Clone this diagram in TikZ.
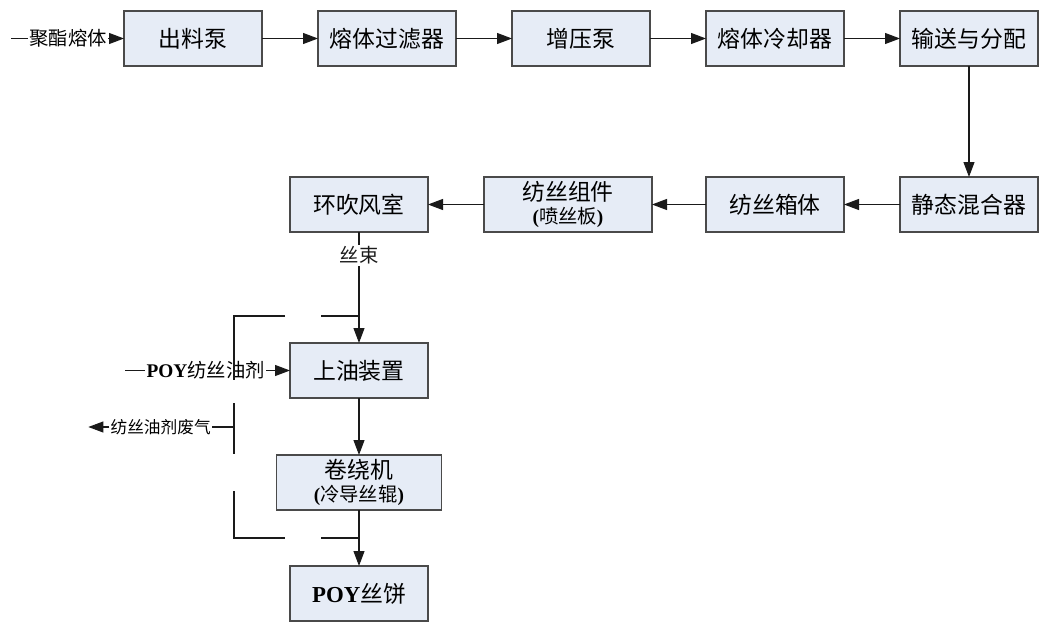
\documentclass[tikz,border=0pt]{standalone}
\usepackage{fontspec}
\setmainfont{Liberation Serif}
\newfontfamily\cjk{Noto Sans CJK SC}
\usetikzlibrary{arrows.meta,positioning}
\definecolor{boxfill}{HTML}{E6ECF6}
\definecolor{boxline}{HTML}{4A4A4A}
\definecolor{ink}{HTML}{1A1A1A}
\newcommand\subline[1]{{\fontsize{11}{12}\selectfont\textbf{\rmfamily(}#1\textbf{\rmfamily)}}}
\tikzset{
  proc/.style={draw=boxline,fill=boxfill,line width=0.8pt,minimum width=2.76cm,minimum height=1.1cm,inner sep=0pt,outer sep=0pt,align=center,font=\cjk\fontsize{13}{15}\selectfont},
  arr/.style={-{Triangle[length=3mm,width=2.2mm]},line width=0.6pt,color=ink},
  ln/.style={line width=0.6pt,color=ink},
  lbl/.style={inner sep=0.5pt,font=\cjk\fontsize{11}{13}\selectfont},
  slbl/.style={inner sep=0.5pt,font=\cjk\fontsize{9.5}{11}\selectfont}}

\begin{document}
\begin{tikzpicture}[node distance=1.12cm]
\useasboundingbox (0,0) rectangle (20.8,-12.44);
% melt line
\node[proc,anchor=north west] (pump) at (2.48,-0.22) {出料泵};
\node[proc,right=of pump] (filter) {熔体过滤器};
\node[proc,right=of filter] (booster) {增压泵};
\node[proc,right=of booster] (cooler) {熔体冷却器};
\node[proc,right=of cooler] (dist) {输送与分配};
\node[proc,below=2.22cm of dist] (mixer) {静态混合器};
\node[proc,left=of mixer] (beam) {纺丝箱体};
\node[proc,left=1.08cm of beam,minimum width=3.36cm] (pack) {纺丝组件\\[-2pt]\subline{喷丝板}};
\node[proc,left=of pack] (quench) {环吹风室};
% take-up
\node[proc,below=2.22cm of quench] (oiler) {上油装置};
\node[proc,below=1.14cm of oiler,minimum width=3.3cm] (winder) {卷绕机\\[-2pt]\subline{冷导丝辊}};
\node[proc,below=1.12cm of winder] (cake) {{\rmfamily\bfseries POY}丝饼};
% side labels
\node[lbl,left=0.32cm of pump] (feed) {聚酯熔体};
\coordinate[left=0.34cm of feed] (feedin);
\node[lbl,left=0.48cm of oiler] (oil) {{\rmfamily\bfseries POY}纺丝油剂};
\coordinate[left=0.4cm of oil] (oilin);
\coordinate (wall) at (4.68,-8.54);
\node[slbl,left=0.44cm of wall] (fume) {纺丝油剂废气};
\coordinate[left=0.42cm of fume] (fumeout);
% enclosure
\draw[ln] (5.7,-6.32) -- (4.68,-6.32) -- (4.68,-7.6);
\draw[ln] (6.42,-6.32) -- (7.18,-6.32);
\draw[ln] (4.68,-8.06) -- (4.68,-9.08);
\draw[ln] (4.68,-9.82) -- (4.68,-10.76) -- (5.7,-10.76);
\draw[ln] (6.42,-10.76) -- (7.18,-10.76);
% flows
\draw[ln] (feedin) -- (feed);
\draw[arr] (feed) -- (pump);
\draw[arr] (pump) -- (filter);
\draw[arr] (filter) -- (booster);
\draw[arr] (booster) -- (cooler);
\draw[arr] (cooler) -- (dist);
\draw[arr] (dist) -- (mixer);
\draw[arr] (mixer) -- (beam);
\draw[arr] (beam) -- (pack);
\draw[arr] (pack) -- (quench);
\draw[arr] (quench) -- node[lbl,pos=0.21,fill=white,inner sep=1pt]{丝束} (oiler);
\draw[ln] (oilin) -- (oil);
\draw[arr] (oil) -- (oiler);
\draw[ln] (wall) -- (fume);
\draw[arr] (fume) -- (fumeout);
\draw[arr] (oiler) -- (winder);
\draw[arr] (winder) -- (cake);
\end{tikzpicture}
\end{document}
